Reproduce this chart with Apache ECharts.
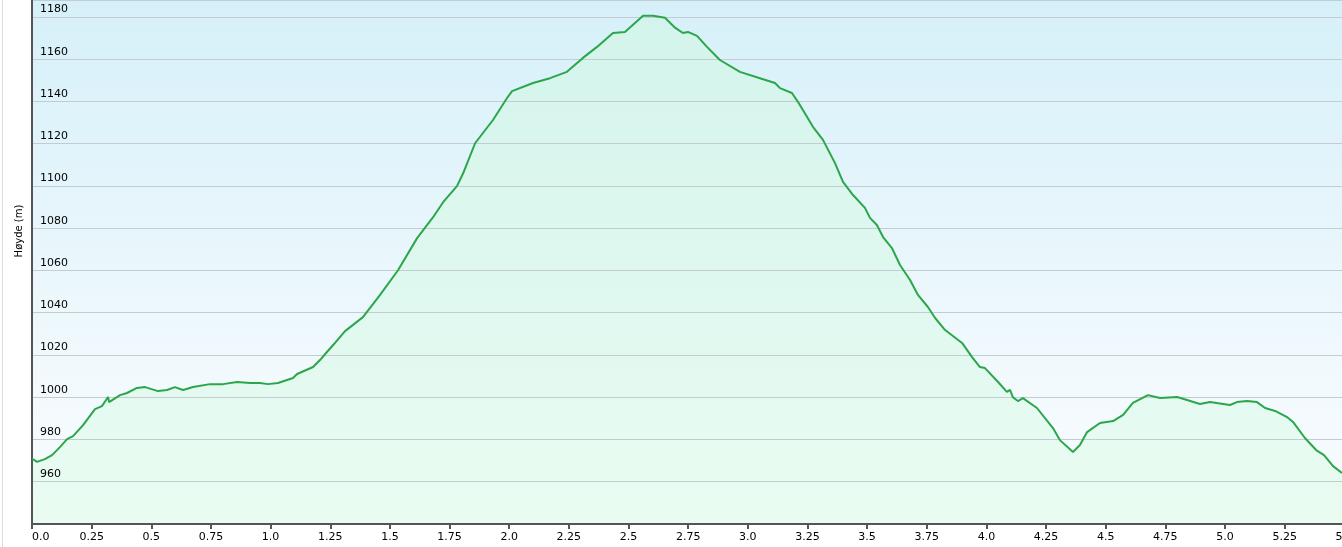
<!DOCTYPE html>
<html>
<head>
<meta charset="utf-8">
<script src="https://cdn.jsdelivr.net/npm/echarts@6/dist/echarts.min.js"></script>
<style>
html,body{margin:0;padding:0;background:#fff;}
#chart{width:1342px;height:547px;}
</style>
</head>
<body>
<div id="chart"></div>
<script>
const distanceKm = [0.000,0.021,0.054,0.084,0.117,0.147,0.172,0.214,0.264,0.293,0.319,0.323,0.369,0.398,0.440,0.474,0.528,0.566,0.599,0.633,0.675,0.746,0.801,0.859,0.914,0.956,0.989,1.031,1.094,1.111,1.178,1.207,1.236,1.262,1.312,1.387,1.458,1.534,1.614,1.681,1.723,1.781,1.807,1.857,1.932,1.991,2.012,2.100,2.171,2.242,2.309,2.368,2.435,2.485,2.561,2.603,2.653,2.695,2.728,2.749,2.787,2.829,2.883,2.967,3.051,3.114,3.135,3.185,3.210,3.248,3.273,3.315,3.365,3.399,3.441,3.491,3.512,3.541,3.567,3.604,3.638,3.680,3.713,3.755,3.785,3.827,3.898,3.940,3.973,3.994,4.049,4.086,4.099,4.111,4.132,4.153,4.212,4.279,4.308,4.363,4.392,4.422,4.476,4.531,4.573,4.614,4.677,4.728,4.799,4.841,4.895,4.937,5.021,5.050,5.092,5.134,5.168,5.210,5.260,5.285,5.335,5.382,5.415,5.453,5.490];
const elevationM = [971,969.4,970.7,972.6,976.4,980.2,981.6,986.8,994.4,995.8,1000.1,997.7,1001,1002,1004.4,1004.8,1002.9,1003.4,1004.8,1003.4,1004.8,1006.2,1006.2,1007.2,1006.7,1006.7,1006.2,1006.7,1009.1,1011,1014.3,1017.6,1021.4,1024.7,1031.3,1037.9,1048.3,1060.1,1075.3,1085.2,1092.3,1099.9,1106,1120.2,1131.2,1141.6,1144.9,1148.7,1151,1154,1160.6,1165.8,1172.4,1172.9,1180.5,1180.5,1179.6,1174.9,1172.4,1172.9,1171,1165.8,1159.6,1154,1151,1148.7,1146.3,1144,1139.8,1132.7,1128,1121.8,1110.9,1101.9,1095.7,1089.6,1084.9,1081.5,1075.8,1070.6,1062.6,1055.5,1048.4,1042.7,1037.5,1031.8,1025.7,1019,1014.3,1013.8,1007.2,1002.5,1003.5,1000,998.2,999.6,994.9,985.4,979.7,974.1,977.4,983.5,987.8,988.7,991.6,997.3,1001,999.6,1000.1,998.7,996.8,997.7,996.3,997.7,998.2,997.7,994.9,993.5,990.6,988.3,980.7,975,972.6,967.4,964.1];
const yAxisTitle = 'Høyde (m)';

const chart = echarts.init(document.getElementById('chart'), null, {renderer: 'canvas'});
const points = distanceKm.map((d, i) => [d, elevationM[i]]);

chart.setOption({
  animation: false,
  backgroundColor: '#ffffff',
  textStyle: {fontFamily: 'DejaVu Sans'},
  graphic: [{
    type: 'line', silent: true,
    shape: {x1: 2.5, y1: 0, x2: 2.5, y2: 547},
    style: {stroke: '#dcdcdc', lineWidth: 1}
  }],
  grid: {
    left: 32, right: -2.3, top: 0, bottom: 23,
    outerBoundsMode: 'none',
    containLabel: false,
    show: true, borderWidth: 0,
    backgroundColor: {
      type: 'linear', x: 0, y: 0, x2: 0, y2: 1,
      colorStops: [
        {offset: 0, color: '#d6f0f9'},
        {offset: 0.75, color: '#f3fafd'},
        {offset: 1, color: '#f8fcfe'}
      ]
    }
  },
  xAxis: {
    type: 'value', min: 0, max: 5.5, interval: 0.25, z: 4,
    axisLine: {show: true, lineStyle: {color: '#555555', width: 2}},
    axisTick: {show: true, length: 5, lineStyle: {color: '#555555', width: 2}},
    splitLine: {show: false},
    axisLabel: {
      color: '#000', fontSize: 11, margin: 8, fontFamily: 'DejaVu Sans',
      alignMinLabel: 'left', hideOverlap: false,
      formatter: v => (Math.abs(v * 2 - Math.round(v * 2)) < 1e-9 ? v.toFixed(1) : v.toFixed(2))
    }
  },
  yAxis: {
    type: 'value', min: 940, max: 1188, interval: 20, z: 4,
    name: yAxisTitle, nameLocation: 'middle', nameRotate: 90, nameGap: -4,
    nameTextStyle: {color: '#000', fontSize: 10, fontFamily: 'DejaVu Sans', padding: [0, 0, 0, 62]},
    axisLine: {show: true, lineStyle: {color: '#555555', width: 2}},
    axisTick: {show: false},
    splitLine: {show: true, lineStyle: {color: '#c3ccd0', width: 1.2}},
    axisLabel: {
      inside: true, margin: 8, color: '#000', fontSize: 11, fontFamily: 'DejaVu Sans',
      verticalAlign: 'bottom', padding: [0, 0, 2, 0],
      showMinLabel: false, showMaxLabel: false, hideOverlap: false,
      formatter: v => String(v)
    }
  },
  series: [{
    type: 'line',
    data: points,
    symbol: 'none',
    lineStyle: {width: 0, opacity: 0},
    areaStyle: {
      opacity: 1,
      color: {
        type: 'linear', x: 0, y: 0, x2: 0, y2: 1,
        colorStops: [
          {offset: 0, color: '#d3f4ec'},
          {offset: 1, color: '#eafcf2'}
        ]
      },
      origin: 'start'
    },
    z: 1
  }, {
    type: 'line',
    data: points,
    symbol: 'none',
    lineStyle: {color: '#2ba64b', width: 2},
    z: 6
  }]
});
</script>
</body>
</html>
